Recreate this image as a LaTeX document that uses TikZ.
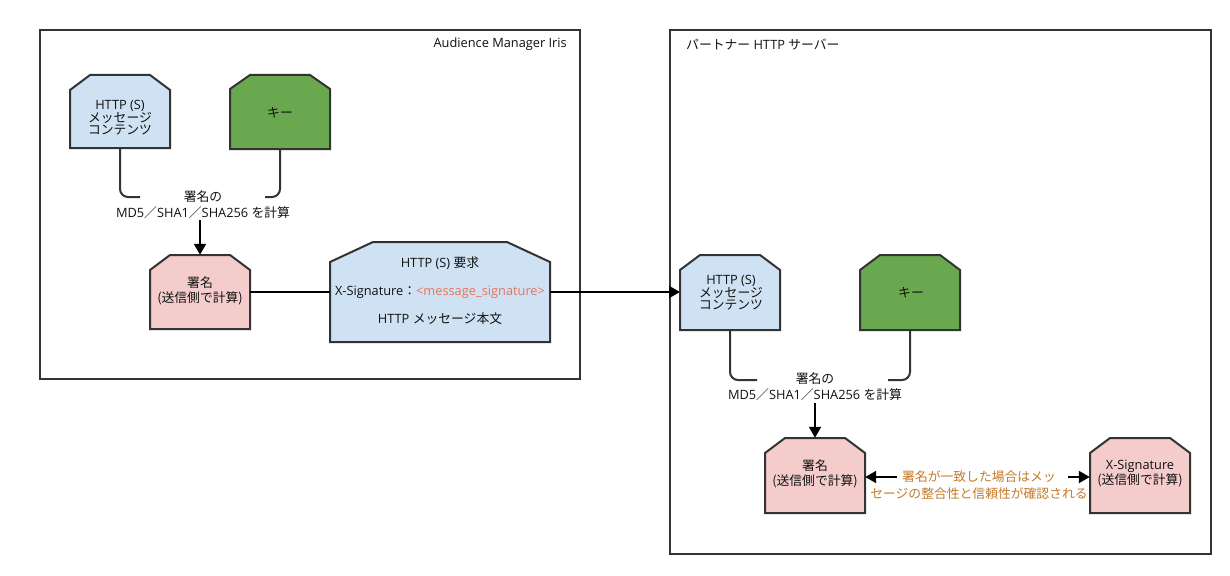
\documentclass[tikz,border=0pt]{standalone}
\usepackage{fontspec}
\setmainfont{Open Sans}
\newfontfamily\jp{Noto Sans CJK JP}
\usetikzlibrary{arrows.meta,backgrounds,fit}
\definecolor{bord}{HTML}{333333}
\definecolor{tc}{HTML}{111111}
\definecolor{bluef}{HTML}{CFE2F3}
\definecolor{greenf}{HTML}{6AA84F}
\definecolor{pinkf}{HTML}{F4CCCC}
\definecolor{orangec}{HTML}{C47A28}
\definecolor{salmon}{HTML}{E8735A}
\tikzset{
  bx/.style={draw=bord, line width=2pt, line join=miter},
  frame/.style={draw=bord, line width=2pt, inner sep=0pt},
  txt/.style={font=\fontsize{12.8}{12.8}\selectfont, align=center, inner sep=0pt, text=tc},
  conn/.style={draw=bord, line width=2pt, rounded corners=8pt},
  arr/.style={draw=black, line width=2pt, -{Triangle[length=11pt,width=12pt]}},
}
\newcommand\chbox[8]{%
  \draw[bx,fill=#8] (#2,#5) -- (#2,#3+#7) -- (#2+#6,#3) -- (#4-#6,#3) -- (#4,#3+#7) -- (#4,#5) -- cycle;
  \node[fit={(#2,#3) (#4,#5)}, inner sep=0pt] (#1) {};
}
\begin{document}
\begin{tikzpicture}[x=1pt,y=-1pt]
\useasboundingbox (0,0) rectangle (1230,575);
\fill[white] (0,0) rectangle (1230,575);

% frames
\node[frame, fit={(39.5,30.5) (580,379)}] (fL) {};
\node[frame, fit={(669.5,30.5) (1211,554)}] (fR) {};
\node[txt, anchor=east] (tL) at (567,44) {Audience Manager Iris};
\node[txt, anchor=west] (tR) at (686,45) {{\jp パートナー} HTTP {\jp サーバー}};

% left side boxes
\chbox{c1}{70}{75}{170}{148}{20}{15}{bluef}
\chbox{k1}{230}{75}{330}{149}{20}{14}{greenf}
\chbox{s1}{150}{255}{250}{329}{20}{15}{pinkf}
\chbox{r1}{330}{242}{550}{342}{43}{20}{bluef}

\node[txt, font=\fontsize{12.8}{12}\selectfont] (c1t) at (120,118) {HTTP (S)\\{\jp メッセージ}\\{\jp コンテンツ}};
\node[txt, font=\jp\fontsize{12.8}{12.8}\selectfont] (k1t) at (280,113) {キー};
\node[txt, font=\fontsize{12.8}{15}\selectfont] (s1t) at (200,290.5) {{\jp 署名}\\{\jp (送信側で計算)}};
\node[txt, font=\fontsize{12.8}{28}\selectfont] (r1t) at (440,291) {HTTP (S) {\jp 要求}\\X-Signature{\jp ：}\textcolor{salmon}{<message\_signature>}\\HTTP {\jp メッセージ本文}};

\node[txt, font=\fontsize{12.8}{16}\selectfont] (l1) at (203,205) {{\jp 署名の}\\MD5{\jp ／}SHA1{\jp ／}SHA256 {\jp を計算}};
\coordinate (l1a) at (140,197);
\coordinate (l1b) at (265,197);
\draw[conn] (c1.south) |- (l1a);
\draw[conn] (k1.south) |- (l1b);
\draw[arr] (s1.north |- 0,220) -- (s1.north);
\draw[line width=2pt, draw=black] (s1.east) -- (r1.west);
\draw[arr] (r1.east) -- (r1.east -| 680,0);

% right side boxes
\chbox{c2}{680}{255}{780}{330}{20}{15}{bluef}
\chbox{k2}{860}{255}{960}{330}{20}{15}{greenf}
\chbox{s2}{765}{438}{865}{513}{20}{15}{pinkf}
\chbox{x2}{1090}{438}{1190}{513}{20}{15}{pinkf}

\node[txt, font=\fontsize{12.8}{12.5}\selectfont] (c2t) at (731,293) {HTTP (S)\\{\jp メッセージ}\\{\jp コンテンツ}};
\node[txt, font=\jp\fontsize{12.8}{12.8}\selectfont] (k2t) at (911,293) {キー};
\node[txt, font=\fontsize{12.8}{15}\selectfont] (s2t) at (815,474) {{\jp 署名}\\{\jp (送信側で計算)}};
\node[txt, font=\fontsize{12.8}{15}\selectfont] (x2t) at (1140,474) {X-Signature\\{\jp (送信側で計算)}};

\node[txt, font=\fontsize{12.8}{16}\selectfont] (l2) at (815,387) {{\jp 署名の}\\MD5{\jp ／}SHA1{\jp ／}SHA256 {\jp を計算}};
\coordinate (l2a) at (757,380);
\coordinate (l2b) at (888,380);
\draw[conn] (c2.south) |- (l2a);
\draw[conn] (k2.south) |- (l2b);
\draw[arr] (s2.north |- 0,403) -- (s2.north);

\node[txt, font=\jp\fontsize{12.8}{17}\selectfont, text=orangec] (o1) at (979,485.5) {署名が一致した場合はメッ\\セージの整合性と信頼性が確認される};
\coordinate (oa) at (897,477);
\coordinate (ob) at (1068,477);
\draw[arr] (oa) -- (oa -| s2.east);
\draw[arr] (ob) -- (ob -| x2.west);
\end{tikzpicture}
\end{document}
